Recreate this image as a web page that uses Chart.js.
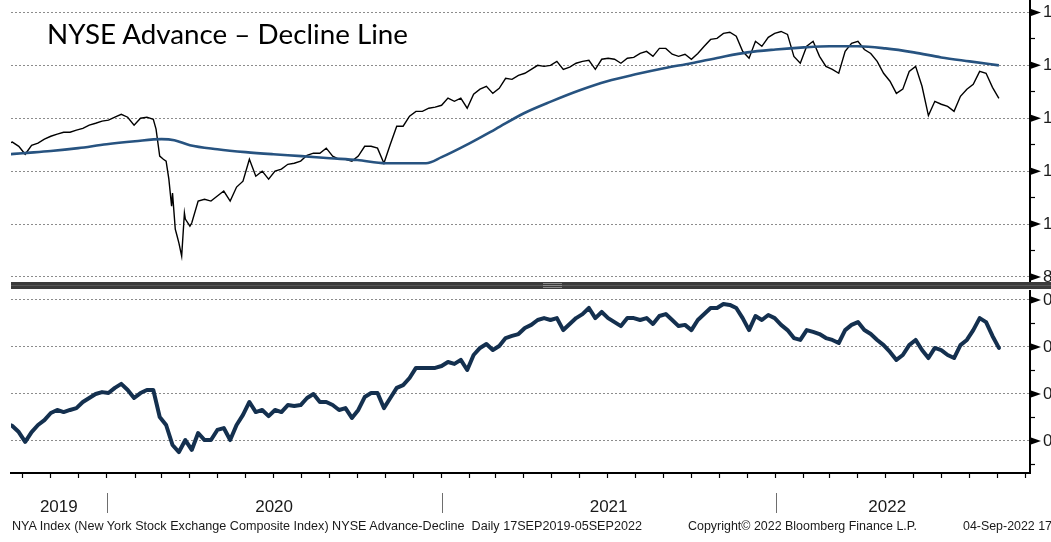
<!DOCTYPE html>
<html>
<head>
<meta charset="utf-8">
<script src="https://cdn.jsdelivr.net/npm/chart.js@4.4.0/dist/chart.umd.min.js"></script>
<style>
html,body{margin:0;padding:0;background:#fff;overflow:hidden;width:1051px;height:542px;position:relative}
canvas{position:absolute;left:0}
#cTop{top:0}
#cBot{top:290px}
#sep{position:absolute;left:11px;top:282px;width:1040px;height:7px;background:#3b3b3b}
#sep .mid{position:absolute;left:0;right:0;top:3px;height:1px;background:#575757}
#sep .hdl{position:absolute;left:532px;width:19px;top:1px;height:5px;border-top:1px solid #8a8a8a;border-bottom:1px solid #8a8a8a;box-sizing:border-box}
#sep .hdl2{position:absolute;left:532px;width:19px;top:3px;height:1px;background:#8a8a8a}
.txt{position:absolute;white-space:nowrap;transform-origin:0 0;color:#111}
#title{left:47px;top:21px;font-family:Lato,"Open Sans",sans-serif;font-size:26px;line-height:26px;color:#000}
.foot{font-family:"Liberation Sans",Arial,sans-serif;font-size:13px;line-height:13px;top:519px;color:#1a1a1a}
</style>
</head>
<body>
<canvas id="cTop" width="1051" height="282"></canvas>
<div id="sep"><div class="mid"></div><div class="hdl"></div><div class="hdl2"></div></div>
<canvas id="cBot" width="1051" height="252"></canvas>
<div id="title" class="txt" data-w="361">NYSE Advance – Decline Line</div>
<div class="txt foot" style="left:12px" data-w="630">NYA Index (New York Stock Exchange Composite Index) NYSE Advance-Decline&nbsp; Daily 17SEP2019-05SEP2022</div>
<div class="txt foot" style="left:688px" data-w="229">Copyright© 2022 Bloomberg Finance L.P.</div>
<div class="txt foot" style="left:963px" data-w="89">04-Sep-2022 17</div>
<script>
// ---------------- DATA ----------------
const weeklyDates = [
"2019-09-17","2019-09-20","2019-09-27","2019-10-04","2019-10-11","2019-10-18","2019-10-25","2019-11-01","2019-11-08","2019-11-15","2019-11-22","2019-11-29","2019-12-06","2019-12-13","2019-12-20","2019-12-27",
"2020-01-03","2020-01-10","2020-01-17","2020-01-24","2020-01-31","2020-02-07","2020-02-14","2020-02-21","2020-02-28","2020-03-06","2020-03-13","2020-03-20","2020-03-27","2020-04-03","2020-04-10","2020-04-17","2020-04-24","2020-05-01","2020-05-08","2020-05-15","2020-05-22","2020-05-29","2020-06-05","2020-06-12","2020-06-19","2020-06-26","2020-07-03","2020-07-10","2020-07-17","2020-07-24","2020-07-31","2020-08-07","2020-08-14","2020-08-21","2020-08-28","2020-09-04","2020-09-11","2020-09-18","2020-09-25","2020-10-02","2020-10-09","2020-10-16","2020-10-23","2020-10-30","2020-11-06","2020-11-13","2020-11-20","2020-11-27","2020-12-04","2020-12-11","2020-12-18","2020-12-25",
"2021-01-01","2021-01-08","2021-01-15","2021-01-22","2021-01-29","2021-02-05","2021-02-12","2021-02-19","2021-02-26","2021-03-05","2021-03-12","2021-03-19","2021-03-26","2021-04-02","2021-04-09","2021-04-16","2021-04-23","2021-04-30","2021-05-07","2021-05-14","2021-05-21","2021-05-28","2021-06-04","2021-06-11","2021-06-18","2021-06-25","2021-07-02","2021-07-09","2021-07-16","2021-07-23","2021-07-30","2021-08-06","2021-08-13","2021-08-20","2021-08-27","2021-09-03","2021-09-10","2021-09-17","2021-09-24","2021-10-01","2021-10-08","2021-10-15","2021-10-22","2021-10-29","2021-11-05","2021-11-12","2021-11-19","2021-11-26","2021-12-03","2021-12-10","2021-12-17","2021-12-24","2021-12-31",
"2022-01-07","2022-01-14","2022-01-21","2022-01-28","2022-02-04","2022-02-11","2022-02-18","2022-02-25","2022-03-04","2022-03-11","2022-03-18","2022-03-25","2022-04-01","2022-04-08","2022-04-15","2022-04-22","2022-04-29","2022-05-06","2022-05-13","2022-05-20","2022-05-27","2022-06-03","2022-06-10","2022-06-17","2022-06-24","2022-07-01","2022-07-08","2022-07-15","2022-07-22","2022-07-29","2022-08-05","2022-08-12","2022-08-19","2022-08-26","2022-09-02"
];

// NYA Index (top panel, black)
const nyaClose = [
13060,13100,12940,12640,12980,13060,13210,13320,13400,13470,13470,13550,13620,13740,13810,13890,
13930,14040,14150,14040,13740,14000,14040,13960,12570,12380,11170,9280,10190,10040,10870,10940,10870,11060,11250,10870,11400,11620,12450,11810,12000,11700,12000,12080,12260,12300,12380,12600,12680,12680,12870,12570,12450,12450,12380,12570,12940,12940,12870,12300,13020,13700,13700,14080,14260,14260,14380,14420,
14490,14760,14640,14760,14380,14910,15100,15210,14940,15130,15510,15470,15620,15700,15850,16000,15960,16000,16150,15850,15930,16080,16150,16190,15850,16230,16270,16230,16080,16270,16300,16450,16530,16340,16640,16640,16420,16340,16420,16230,16450,16720,16980,17020,17210,17250,17100,16530,16270,16910,16720,17060,17210,
17280,17170,16340,16080,16720,16910,16340,15960,15850,15700,16530,16830,16910,16600,16450,16150,15700,15400,14940,15100,15770,15960,15210,14100,14640,14530,14450,14260,14830,15100,15280,15770,15700,15170,14750
];
// extra NYA readings inside the March 2020 crash
const nyaExtraDates  = ["2020-02-24","2020-03-03","2020-03-09","2020-03-12","2020-03-16","2020-03-18","2020-03-23","2020-03-26","2020-04-01"];
const nyaExtraValues = [13590,12450,11700,10680,9810,9550,8790,10420,9920];

// 200-day moving average (top panel, blue)
const maDates = ["2019-09-17","2019-10-01","2019-11-01","2019-12-01","2020-01-01","2020-02-01","2020-03-01","2020-03-15","2020-04-01","2020-05-01","2020-06-01","2020-07-01","2020-08-01","2020-09-01","2020-10-01","2020-11-01","2020-11-15","2020-12-01","2020-12-15","2021-01-01","2021-02-01","2021-03-01","2021-04-01","2021-05-01","2021-06-01","2021-07-01","2021-08-01","2021-09-01","2021-10-01","2021-11-01","2021-12-01","2022-01-01","2022-02-01","2022-03-01","2022-04-01","2022-05-01","2022-06-01","2022-07-01","2022-08-01","2022-09-02"];
const nyaMA200 = [12640,12680,12760,12870,13020,13130,13210,13170,12980,12830,12720,12640,12570,12490,12420,12300,12300,12300,12300,12530,13060,13590,14190,14640,15060,15400,15660,15890,16080,16300,16490,16600,16680,16720,16720,16640,16490,16300,16150,16000];

// NYSE Advance-Decline line (bottom panel)
const advDecline = [
0.268,0.264,0.238,0.196,0.238,0.268,0.289,0.319,0.332,0.323,0.332,0.340,0.366,0.383,0.400,0.408,
0.404,0.426,0.443,0.417,0.383,0.404,0.417,0.417,0.302,0.268,0.183,0.153,0.204,0.162,0.234,0.204,0.204,0.247,0.255,0.204,0.268,0.311,0.366,0.323,0.332,0.306,0.332,0.323,0.353,0.349,0.353,0.383,0.400,0.366,0.366,0.353,0.332,0.340,0.298,0.332,0.387,0.404,0.404,0.340,0.383,0.426,0.438,0.468,0.511,0.511,0.511,0.511,
0.519,0.536,0.528,0.545,0.502,0.566,0.596,0.613,0.587,0.604,0.638,0.647,0.655,0.681,0.694,0.715,0.723,0.715,0.723,0.672,0.698,0.723,0.740,0.766,0.723,0.749,0.723,0.706,0.689,0.723,0.723,0.715,0.723,0.698,0.732,0.740,0.715,0.689,0.694,0.672,0.715,0.740,0.766,0.766,0.783,0.779,0.766,0.723,0.672,0.732,0.715,0.736,0.723,
0.694,0.672,0.638,0.630,0.672,0.664,0.655,0.638,0.630,0.617,0.672,0.694,0.706,0.672,0.655,0.630,0.608,0.579,0.545,0.566,0.608,0.630,0.587,0.553,0.596,0.587,0.566,0.553,0.608,0.630,0.672,0.723,0.706,0.647,0.596
];

// axis ticks / labels
const topTickValues = [8000,9000,10000,11000,12000,13000,14000,15000,16000,17000,18000];
const topLabelValues = [8000,10000,12000,14000,16000,18000];
const botTickValues = [0.1,0.2,0.3,0.4,0.5,0.6,0.7,0.8];
const botLabelValues = [0.2,0.4,0.6,0.8];
const yearLabels = ["2019","2020","2021","2022"];
const yearStarts = ["2020-01-01","2021-01-01","2022-01-01"];
const firstDate = "2019-09-17", lastDate = "2022-09-02";

// ---------------- HELPERS ----------------
const BASE = Date.UTC(2019,8,17);
function dayOf(s){const p=s.split('-').map(Number);return (Date.UTC(p[0],p[1]-1,p[2])-BASE)/864e5;}
const X_MIN = 1.5, X_MAX = 1115;
const monthTicks = [];
for(let y=2019;y<=2022;y++)for(let m=1;m<=12;m++){const d=(Date.UTC(y,m-1,1)-BASE)/864e5;if(d>=X_MIN&&d<=X_MAX)monthTicks.push(d);}

const pricePts = weeklyDates.map((d,i)=>({x:dayOf(d),y:nyaClose[i]}))
  .concat(nyaExtraDates.map((d,i)=>({x:dayOf(d),y:nyaExtraValues[i]})))
  .sort((a,b)=>a.x-b.x);
const maPts = maDates.map((d,i)=>({x:dayOf(d),y:nyaMA200[i]}));
const adPts = weeklyDates.map((d,i)=>({x:dayOf(d),y:advDecline[i]}));

const GRID = '#8c8c8c';
const LABEL_FONT = {family:'"Liberation Sans", Arial, sans-serif', size:17};

const triangles = {
  id:'triangles',
  afterDraw(chart){
    const s = chart.scales.y, ctx = chart.ctx;
    const majors = chart.options.plugins.triangles.values;
    ctx.save(); ctx.fillStyle='#000';
    majors.forEach(v=>{
      const y = s.getPixelForValue(v), x = s.left+1;
      ctx.beginPath(); ctx.moveTo(x,y-3.5); ctx.lineTo(x+10,y); ctx.lineTo(x,y+3.5); ctx.closePath(); ctx.fill();
    });
    ctx.restore();
  }
};

const years = {
  id:'years',
  afterDraw(chart){
    const s = chart.scales.x, ctx = chart.ctx;
    const b = [dayOf(firstDate)].concat(yearStarts.map(dayOf)).concat([dayOf(lastDate)]);
    ctx.save();
    ctx.strokeStyle='#6e6e6e'; ctx.lineWidth=1;
    yearStarts.forEach(d=>{
      const x = Math.round(s.getPixelForValue(dayOf(d)))+0.5;
      ctx.beginPath(); ctx.moveTo(x,203); ctx.lineTo(x,223); ctx.stroke();
    });
    ctx.fillStyle='#1a1a1a'; ctx.font='17px "Liberation Sans", Arial, sans-serif';
    ctx.textAlign='center'; ctx.textBaseline='alphabetic';
    yearLabels.forEach((t,i)=>{
      const x0 = Math.max(s.getPixelForValue(b[i]), s.left), x1 = s.getPixelForValue(b[i+1]);
      ctx.fillText(t,(x0+x1)/2,222);
    });
    ctx.restore();
  }
};

function yAxis(min,max,ticks,labels){
  return {
    position:'right', min:min, max:max,
    afterBuildTicks:s=>{s.ticks = ticks.map(v=>({value:v}));},
    afterFit:s=>{s.width=21; s.paddingTop=0; s.paddingBottom=0;},
    grid:{
      color:c=> (c.tick && labels.some(v=>Math.abs(v-c.tick.value)<1e-9)) ? GRID : 'rgba(0,0,0,0)',
      lineWidth:1, drawTicks:true, tickLength:5, tickColor:'#000', tickWidth:1.2
    },
    border:{display:true,color:'#000',width:2,dash:[2,2]},
    ticks:{padding:8,color:'#1c1c1c',font:LABEL_FONT,
      callback:v=> labels.some(l=>Math.abs(l-v)<1e-9) ? String(v) : ''}
  };
}

const common = {
  responsive:false, animation:false, devicePixelRatio:1,
  events:[],
  elements:{point:{radius:0}}
};

new Chart(document.getElementById('cTop'),{
  type:'line',
  data:{datasets:[
    {label:'200-day MA',data:maPts,borderColor:'#275380',borderWidth:2.6,cubicInterpolationMode:'monotone',order:0},
    {label:'NYA Index',data:pricePts,borderColor:'#000',borderWidth:1.4,tension:0,order:1}
  ]},
  options:Object.assign({},common,{
    layout:{padding:{left:11,right:0,top:0,bottom:0}},
    plugins:{legend:{display:false},tooltip:{enabled:false},triangles:{values:topLabelValues}},
    scales:{
      x:{type:'linear',min:X_MIN,max:X_MAX,display:false},
      y:yAxis(7811,18470,topTickValues,topLabelValues)
    }
  }),
  plugins:[triangles]
});

new Chart(document.getElementById('cBot'),{
  type:'line',
  data:{datasets:[
    {label:'NYSE Advance-Decline',data:adPts,borderColor:'#14304f',borderWidth:4,tension:0,borderJoinStyle:'round',borderCapStyle:'round'}
  ]},
  options:Object.assign({},common,{
    layout:{padding:{left:11,right:0,top:0,bottom:0}},
    plugins:{legend:{display:false},tooltip:{enabled:false},triangles:{values:botLabelValues}},
    scales:{
      x:{type:'linear',min:X_MIN,max:X_MAX,position:'bottom',
        afterBuildTicks:s=>{s.ticks = monthTicks.map(v=>({value:v}));},
        afterFit:s=>{s.height=69; s.paddingLeft=0; s.paddingRight=0;},
        grid:{drawOnChartArea:false,drawTicks:true,tickLength:5,tickColor:'#000',tickWidth:1.2},
        border:{display:true,color:'#000',width:2},
        ticks:{display:false}
      },
      y:yAxis(0.0638,0.8425,botTickValues,botLabelValues)
    }
  }),
  plugins:[triangles,years]
});

function fitTexts(){
  document.querySelectorAll('.txt').forEach(el=>{
    el.style.transform='none';
    const w = el.getBoundingClientRect().width, t = +el.dataset.w;
    if(w>0&&t>0) el.style.transform='scaleX('+(t/w).toFixed(4)+')';
  });
}
fitTexts();
if(document.fonts&&document.fonts.ready) document.fonts.ready.then(fitTexts);
</script>
</body>
</html>
